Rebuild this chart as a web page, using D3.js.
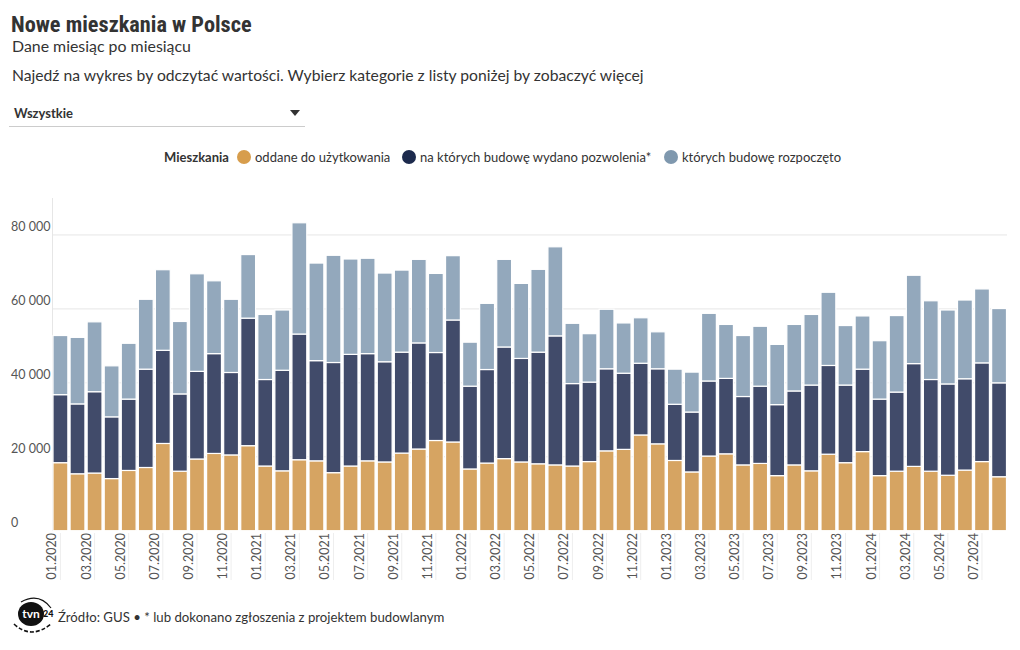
<!DOCTYPE html>
<html><head><meta charset="utf-8">
<script src="https://cdn.jsdelivr.net/npm/d3@7"></script>
<style>
body{margin:0;background:#fff;}
svg{display:block;font-family:"Source Sans Pro",Lato,"Noto Sans",sans-serif;}
</style></head>
<body><svg id="c" width="1020" height="650"></svg>
<script>
const months = [
 "01.2020","02.2020","03.2020","04.2020","05.2020","06.2020","07.2020","08.2020","09.2020","10.2020","11.2020","12.2020",
 "01.2021","02.2021","03.2021","04.2021","05.2021","06.2021","07.2021","08.2021","09.2021","10.2021","11.2021","12.2021",
 "01.2022","02.2022","03.2022","04.2022","05.2022","06.2022","07.2022","08.2022","09.2022","10.2022","11.2022","12.2022",
 "01.2023","02.2023","03.2023","04.2023","05.2023","06.2023","07.2023","08.2023","09.2023","10.2023","11.2023","12.2023",
 "01.2024","02.2024","03.2024","04.2024","05.2024","06.2024","07.2024","08.2024"];
// oddane do użytkowania
const oddane = [18400,15400,15600,14100,16300,17100,23600,16100,19400,20900,20500,23000,
 17500,16200,19200,18900,15700,17500,18900,18600,21000,22100,24400,24000,
 16700,18300,19500,18600,18100,17800,17500,18700,21600,22000,25900,23500,
 19000,15900,20200,20800,17800,18200,14900,17800,16200,20700,18400,21400,
 14900,16100,17400,16100,15000,16400,18700,14600];
// na których budowę wydano pozwolenia*
const pozwolenia = [18400,18900,22000,16700,19300,26600,25200,20900,23700,27000,22300,34500,
 23400,27200,34000,27100,29800,30200,29000,27100,27300,28700,23800,33000,
 22400,25300,30200,28000,30200,34900,22300,21500,22200,20600,19400,20300,
 15200,16200,20300,20400,18500,20900,19200,20000,23200,24000,21000,22300,
 20700,21400,27800,24800,24700,24700,26700,25400];
// których budowę rozpoczęto
const rozpoczete = [16000,18000,18900,13800,15100,18900,21800,19600,26400,19700,19800,17200,
 17600,16300,30100,26400,29000,25800,25800,24000,22200,22600,21400,17400,
 11900,17900,23700,20300,22400,24100,16300,13100,16100,13600,12300,10000,
 9500,10800,18300,14600,16500,16200,16300,18000,19100,19800,16100,14400,
 15800,20700,23900,21300,20000,21300,20000,20100];
const yTicks = [0,20000,40000,60000,80000];
const xTickLabels = months.filter((m,i)=>i%2===0);
const seriesKeys = ["oddane","pozwolenia","rozpoczete"];
const seriesNames = ["oddane do użytkowania","na których budowę wydano pozwolenia*","których budowę rozpoczęto"];
const barColors = ["#d6a462","#414b6a","#93a8bc"];
const legendColors = ["#d79d4c","#1c2a4d","#7f98ae"];

const svg = d3.select("#c");
const table = months.map((m,i)=>({month:m, oddane:oddane[i], pozwolenia:pozwolenia[i], rozpoczete:rozpoczete[i]}));

// Header
svg.append("text").attr("x",11).attr("y",32)
  .style("font-family",'"Roboto Condensed","Liberation Sans Narrow","DejaVu Sans Condensed",Roboto,sans-serif')
  .style("font-stretch","condensed")
  .style("font-weight","700").style("font-size","22.3px").style("fill","#333")
  .text("Nowe mieszkania w Polsce");
svg.append("text").attr("x",12).attr("y",52).style("font-size","15.9px").style("fill","#333")
  .text("Dane miesiąc po miesiącu");
svg.append("text").attr("x",12).attr("y",81).style("font-size","15.7px").style("fill","#333")
  .text("Najedź na wykres by odczytać wartości. Wybierz kategorie z listy poniżej by zobaczyć więcej");
// dropdown
svg.append("text").attr("x",14).attr("y",118).style("font-size","13px").style("font-weight","700").style("fill","#333")
  .text("Wszystkie");
svg.append("path").attr("d","M290,110 L300,110 L295,116 Z").attr("fill","#333");
svg.append("line").attr("x1",9).attr("x2",305).attr("y1",126.5).attr("y2",126.5).attr("stroke","#ccc");

// Legend
const lg = svg.append("g");
lg.append("text").attr("x",164).attr("y",162).style("font-size","13px").style("font-weight","700").style("fill","#333").text("Mieszkania");
const lgX = [244,409,671];
seriesNames.forEach((n,i)=>{
  lg.append("circle").attr("cx",lgX[i]).attr("cy",157).attr("r",7).attr("fill",legendColors[i]);
  lg.append("text").attr("x",lgX[i]+11).attr("y",162).style("font-size","13px").style("fill","#333").text(n);
});

// Scales
const x = d3.scaleBand().domain(months).range([52.5,1007]).paddingInner(0.13).paddingOuter(0.03);
const y = d3.scaleLinear().domain([0,90000]).range([530.7,198]);

// gridlines
svg.append("g").selectAll("line").data(yTicks.filter(d=>d>0)).join("line")
  .attr("x1",52.5).attr("x2",1007).attr("y1",d=>y(d)).attr("y2",d=>y(d))
  .attr("stroke","#e6e6e6").attr("stroke-width",1);
svg.append("line").attr("x1",52.5).attr("x2",52.5).attr("y1",198).attr("y2",531).attr("stroke","#e6e6e6");

svg.append("g").selectAll("text").data(yTicks).join("text")
  .attr("x",11).attr("y",d=>y(d)-4).style("font-size","12.5px").style("fill","#555")
  .text(d=>d3.format(",")(d).replace(/,/g," "));

// bars
const stack = d3.stack().keys(seriesKeys)(table);
svg.append("g").selectAll("g").data(stack).join("g")
  .attr("fill",(d,i)=>barColors[i])
  .selectAll("rect").data(d=>d).join("rect")
  .attr("x",d=>x(d.data.month)).attr("width",x.bandwidth())
  .attr("y",d=>y(d[1])).attr("height",d=>y(d[0])-y(d[1]))
  .attr("stroke","#fff").attr("stroke-width",1.2);

// x axis
const xa = svg.append("g");
xa.selectAll("line").data(xTickLabels).join("line")
  .attr("x1",d=>x(d)+x.bandwidth()/2).attr("x2",d=>x(d)+x.bandwidth()/2)
  .attr("y1",533).attr("y2",580).attr("stroke","#eee");
xa.selectAll("text").data(xTickLabels).join("text")
  .attr("transform",d=>`translate(${x(d)+x.bandwidth()/2-4},533) rotate(-90)`)
  .attr("text-anchor","end").style("font-size","12.5px").style("fill","#555")
  .text(d=>d);

// footer logo
const logo = svg.append("g").attr("transform","translate(31,614)");
logo.append("ellipse").attr("rx",13).attr("ry",12).attr("fill","#111");
logo.append("text").attr("x",0).attr("y",4).attr("text-anchor","middle").style("font-size","12px").style("font-weight","700").style("fill","#fff").style("font-family","Lato,sans-serif").text("tvn");
logo.append("text").attr("x",12).attr("y",3).style("font-size","9px").style("font-weight","900").style("fill","#111").style("font-family","Lato,sans-serif").text("24");
logo.append("path").attr("d","M-17,10 Q0,26 20,10").attr("fill","none").attr("stroke","#111").attr("stroke-width",1.6).attr("stroke-dasharray","4,2");
logo.append("path").attr("d","M-10,-12 Q8,-22 20,-6").attr("fill","none").attr("stroke","#111").attr("stroke-width",1.2);

svg.append("text").attr("x",58).attr("y",622).style("font-size","13.2px").style("fill","#333")
  .text("Źródło: GUS • * lub dokonano zgłoszenia z projektem budowlanym");
</script></body></html>
